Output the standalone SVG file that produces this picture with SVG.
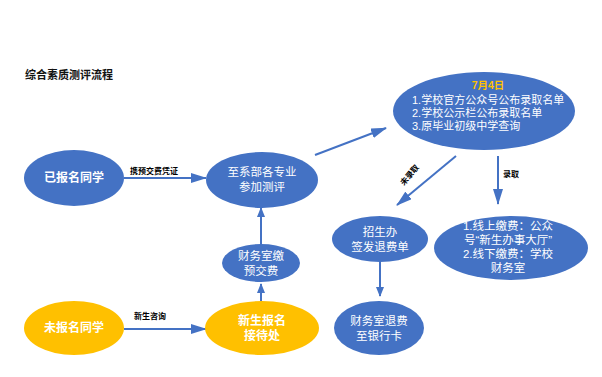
<svg xmlns="http://www.w3.org/2000/svg" width="602" height="377" viewBox="0 0 602 377">
<defs>
<marker id="ah" markerWidth="10" markerHeight="8" refX="9" refY="4" orient="auto" markerUnits="userSpaceOnUse">
<path d="M0,0 L10,4 L0,8 z" fill="#4472C4"/>
</marker>
<marker id="ahL" markerWidth="16" markerHeight="10" refX="15" refY="5" orient="auto" markerUnits="userSpaceOnUse">
<path d="M0,0 L16,5 L0,10 z" fill="#4472C4"/>
</marker>
</defs>
<style>
text{font-family:"Liberation Sans","Noto Sans CJK SC",sans-serif;}
.b{fill:#4472C4;}
.y{fill:#FFC000;}
.t{fill:#fff;font-size:11.5px;text-anchor:middle;}
.tb{fill:#fff;font-size:12px;font-weight:bold;text-anchor:middle;}
.l{fill:#000;font-size:8px;font-weight:bold;}
.c{stroke:#4472C4;stroke-width:2;fill:none;}
.e{fill:#fff;font-size:11px;}
</style>
<rect width="602" height="377" fill="#fff"/>
<text x="25" y="79" style="font-size:11px;font-weight:bold;fill:#111;">综合素质测评流程</text>
<g id="connectors">
<line class="c" x1="124" y1="178" x2="206" y2="178" marker-end="url(#ahL)"/>
<text class="l" x="130" y="174">携预交费凭证</text>
<line class="c" x1="124" y1="329" x2="206" y2="329" marker-end="url(#ahL)"/>
<text class="l" x="134" y="319">新生咨询</text>
<line class="c" x1="261" y1="301" x2="261" y2="284" marker-end="url(#ah)"/>
<line class="c" x1="261" y1="244" x2="261" y2="208" marker-end="url(#ah)"/>
<line class="c" x1="315" y1="155" x2="386" y2="128" marker-end="url(#ahL)"/>
<line class="c" x1="456" y1="156" x2="397" y2="205" marker-end="url(#ahL)"/>
<text class="l" transform="translate(404,186) rotate(-50)">未录取</text>
<line class="c" x1="498" y1="156" x2="498" y2="204" marker-end="url(#ahL)"/>
<text class="l" x="503" y="177">录取</text>
<line class="c" x1="380" y1="262" x2="380" y2="296" marker-end="url(#ah)"/>
</g>
<g id="n1"><ellipse class="b" cx="74" cy="178" rx="50" ry="28"/><text class="tb" x="74" y="182">已报名同学</text></g>
<g id="n2"><ellipse class="b" cx="262" cy="180" rx="56" ry="28"/><text class="t" x="262" y="176">至系部各专业</text><text class="t" x="262" y="191">参加测评</text></g>
<g id="n3"><ellipse class="b" cx="261" cy="263" rx="39" ry="19"/><text class="t" x="261" y="260">财务室缴</text><text class="t" x="261" y="275">预交费</text></g>
<g id="n4"><ellipse class="y" cx="74" cy="328" rx="50" ry="27"/><text class="tb" x="74" y="332">未报名同学</text></g>
<g id="n5"><ellipse class="y" cx="262" cy="328" rx="57" ry="27"/><text class="tb" x="262" y="325">新生报名</text><text class="tb" x="262" y="340">接待处</text></g>
<g id="n6"><ellipse class="b" cx="484" cy="111" rx="91" ry="39"/>
<text x="488" y="89" style="fill:#FFC000;font-size:10.5px;font-weight:bold;text-anchor:middle;">7月4日</text>
<text class="e" x="412" y="104">1.学校官方公众号公布录取名单</text>
<text class="e" x="412" y="117">2.学校公示栏公布录取名单</text>
<text class="e" x="412" y="130">3.原毕业初级中学查询</text></g>
<g id="n7"><ellipse class="b" cx="380" cy="239" rx="48" ry="23"/><text class="t" x="380" y="236">招生办</text><text class="t" x="380" y="251">签发退费单</text></g>
<g id="n8"><ellipse class="b" cx="511" cy="248" rx="77" ry="32"/>
<text class="t" x="508" y="230">1.线上缴费：公众</text>
<text class="t" x="508" y="244">号“新生办事大厅”</text>
<text class="t" x="508" y="258">2.线下缴费：学校</text>
<text class="t" x="508" y="272">财务室</text></g>
<g id="n9"><ellipse class="b" cx="379" cy="328" rx="45" ry="27"/><text class="t" x="379" y="325">财务室退费</text><text class="t" x="379" y="340">至银行卡</text></g>
</svg>
